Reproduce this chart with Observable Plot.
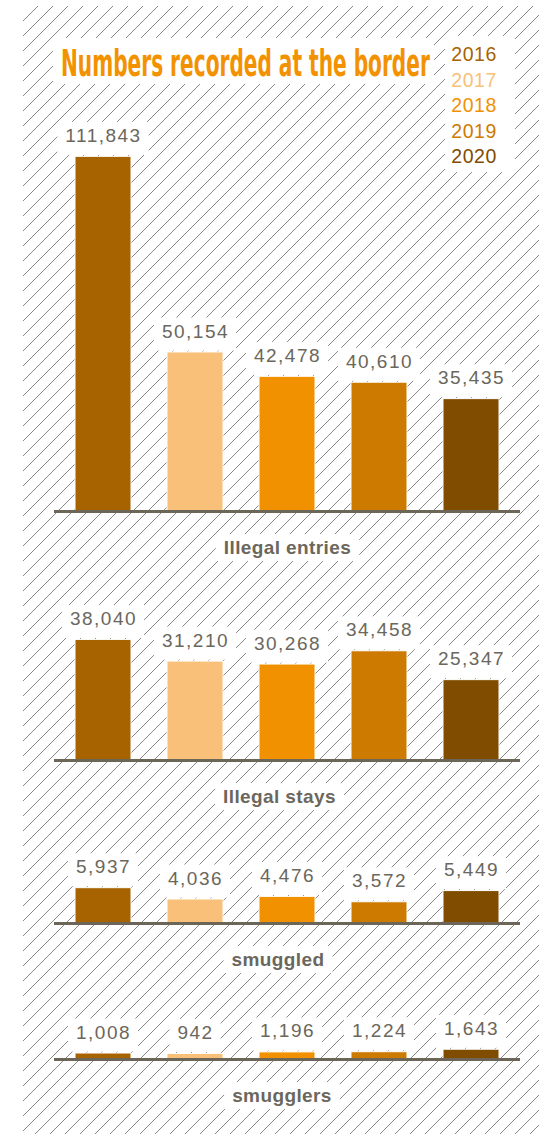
<!DOCTYPE html>
<html>
<head>
<meta charset="utf-8">
<script src="https://cdn.jsdelivr.net/npm/d3@7"></script>
<script src="https://cdn.jsdelivr.net/npm/@observablehq/plot@0.6"></script>
<style>
  html, body { margin: 0; padding: 0; background: #fff; }
  #wrap { position: relative; width: 539px; height: 1134px; overflow: hidden; background: #fff;
          font-family: "Liberation Sans", Arial, Helvetica, sans-serif; }
  #hatch { position: absolute; left: 23px; top: 6px; right: 0; bottom: 0;
           background-image: url("data:image/svg+xml,%3Csvg xmlns='http://www.w3.org/2000/svg' width='15' height='15'%3E%3Cpath d='M-1,1 l2,-2 M0,15 l15,-15 M14,16 l2,-2' stroke='%23888' stroke-width='1'/%3E%3C/svg%3E");
           background-size: 15px 15px; }
  #head { position: absolute; left: 0; top: 0; overflow: visible; }
</style>
</head>
<body>
<div id="wrap">
  <div id="hatch"></div>
</div>
<script>
// ---- data ----
const titleText = "Numbers recorded at the border";
const years = ["2016", "2017", "2018", "2019", "2020"];
const yearColors = ["#a66300", "#f8c078", "#f29100", "#cd7b00", "#7f4c00"];
const categories = ["Illegal entries", "Illegal stays", "smuggled", "smugglers"];
const illegalEntries = [111843, 50154, 42478, 40610, 35435];
const illegalStays = [38040, 31210, 30268, 34458, 25347];
const smuggled = [5937, 4036, 4476, 3572, 5449];
const smugglers = [1008, 942, 1196, 1224, 1643];
const seriesValues = [illegalEntries, illegalStays, smuggled, smugglers];

// ---- layout (not data) ----
const layout = [
  {top: 100, height: 480, marginTop: 20, marginBottom: 69, yMax: 123300, labelDx: 0},
  {top: 580, height: 240, marginTop: 20, marginBottom: 60, yMax: 50470, labelDx: -8},
  {top: 820, height: 160, marginTop: 20, marginBottom: 57, yMax: 13950, labelDx: -9.5},
  {top: 980, height: 154, marginTop: 20, marginBottom: 75, yMax: 9916, labelDx: -5.5}
];

const textColor = "#6b675c";
const fontFam = "Liberation Sans, Arial, Helvetica, sans-serif";
const fmt = d3.format(",");
const wrap = document.getElementById("wrap");
const SVGNS = "http://www.w3.org/2000/svg";

// Header: title + legend (with white boxes)
(function () {
  const svg = d3.select("#wrap").append("svg").attr("id", "head")
    .attr("width", 539).attr("height", 180);
  svg.append("rect").attr("x", 53).attr("y", 38).attr("width", 381).attr("height", 46).attr("fill", "#fff");
  svg.append("rect").attr("x", 445).attr("y", 36).attr("width", 70).attr("height", 136).attr("fill", "#fff");
  const t = svg.append("text")
    .attr("x", 0).attr("y", 0)
    .attr("fill", "#f39200")
    .style("font-family", "'Liberation Sans Narrow', 'DejaVu Sans Condensed', 'Liberation Sans', sans-serif")
    .style("font-weight", "bold")
    .style("font-size", "37px")
    .text(titleText);
  const w = t.node().getComputedTextLength();
  t.attr("transform", `translate(61,76) scale(${369 / w},1)`);
  svg.selectAll("text.yr").data(years).join("text")
    .attr("class", "yr")
    .attr("x", 497).attr("y", (d, i) => 61 + i * 25.5)
    .attr("text-anchor", "end")
    .attr("fill", (d, i) => yearColors[i])
    .style("font-family", fontFam)
    .style("font-size", "19.5px")
    .style("letter-spacing", "0.6px")
    .text(d => d);
})();

function addBoxes(svg, gIndex, pad, spacing) {
  const groups = svg.querySelectorAll('g[aria-label="text"]');
  const g = groups[gIndex];
  if (!g) return;
  g.querySelectorAll("text").forEach(t => {
    t.style.letterSpacing = spacing + "px";
    const b = t.getBBox();
    const r = document.createElementNS(SVGNS, "rect");
    r.setAttribute("x", b.x - pad.l);
    r.setAttribute("y", b.y - pad.t);
    r.setAttribute("width", b.width + pad.l + pad.r);
    r.setAttribute("height", b.height + pad.t + pad.b);
    r.setAttribute("fill", "white");
    r.setAttribute("stroke", "none");
    const tr = t.getAttribute("transform");
    if (tr) r.setAttribute("transform", tr);
    g.insertBefore(r, t);
  });
}

categories.forEach((cat, i) => {
  const L = layout[i];
  const data = years.map((y, j) => ({year: y, value: seriesValues[i][j]}));
  const chart = Plot.plot({
    width: 539,
    height: L.height,
    marginLeft: 54,
    marginRight: 19,
    marginTop: L.marginTop,
    marginBottom: L.marginBottom,
    style: {background: "transparent", overflow: "visible"},
    x: {type: "band", domain: years, paddingInner: 0.39, paddingOuter: 0.21, axis: null},
    y: {domain: [0, L.yMax], axis: null},
    color: {domain: years, range: yearColors},
    marks: [
      Plot.barY(data, {x: "year", y: "value", fill: "year", stroke: "white", strokeWidth: 1}),
      Plot.ruleY([0], {stroke: "#6b6658", strokeWidth: 3}),
      Plot.text(data, {x: "year", y: "value", text: d => fmt(d.value), dy: -21, lineAnchor: "middle",
        fill: textColor, fontSize: 19, fontFamily: fontFam}),
      Plot.text([cat], {frameAnchor: "bottom", text: d => d, dy: 36.5, dx: L.labelDx, lineAnchor: "middle",
        fill: textColor, fontSize: 19, fontWeight: "bold", fontFamily: fontFam})
    ]
  });
  chart.style.top = L.top + "px";
  chart.style.position = "absolute";
  chart.style.left = "0px";
  wrap.appendChild(chart);
  addBoxes(chart, 0, {l: 8, r: 7, t: 3, b: 9}, 1.5);
  addBoxes(chart, 1, {l: 8, r: 8, t: 3, b: 3}, 0.4);
});
</script>
</body>
</html>
